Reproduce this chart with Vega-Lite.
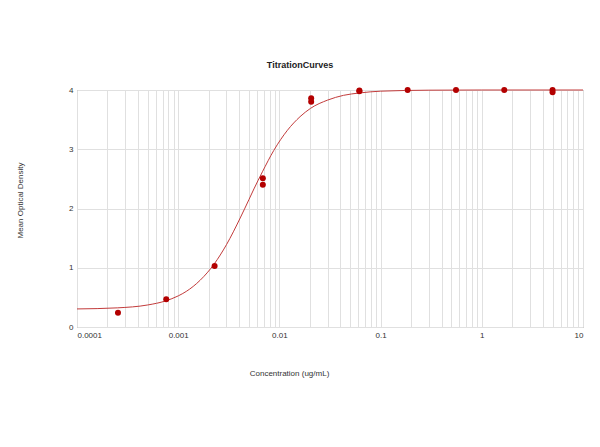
{
  "$schema": "https://vega.github.io/schema/vega-lite/v6.json",
  "autosize": {"type": "none"},
  "padding": {"left": 77, "top": 90, "right": 17, "bottom": 120},
  "width": 506,
  "height": 237,
  "config": {
    "font": "Liberation Sans",
    "view": {"stroke": "#8a8a8a", "strokeWidth": 1},
    "axis": {"labelFontSize": 8, "labelColor": "#333", "titleFontSize": 8, "titleFontWeight": "normal", "titleColor": "#333", "gridColor": "#e0e0e0", "domain": false, "ticks": false}
  },
  "title": {"text": "TitrationCurves", "fontSize": 9, "fontWeight": "bold", "color": "#222", "dx": -30, "offset": 16},
  "layer": [
    {
      "data": {
        "values": [
          {"conc": 0.0001, "od": 0.305},
          {"conc": 0.00025, "od": 0.323},
          {"conc": 0.0005, "od": 0.372},
          {"conc": 0.00075, "od": 0.44},
          {"conc": 0.001, "od": 0.525},
          {"conc": 0.0012, "od": 0.6},
          {"conc": 0.00165, "od": 0.79},
          {"conc": 0.00226, "od": 1.06},
          {"conc": 0.003, "od": 1.39},
          {"conc": 0.0041, "od": 1.84},
          {"conc": 0.005, "od": 2.15},
          {"conc": 0.0056, "od": 2.33},
          {"conc": 0.0068, "od": 2.62},
          {"conc": 0.0088, "od": 2.98},
          {"conc": 0.012, "od": 3.32},
          {"conc": 0.016, "od": 3.55},
          {"conc": 0.0203, "od": 3.69},
          {"conc": 0.03, "od": 3.83},
          {"conc": 0.043, "od": 3.91},
          {"conc": 0.062, "od": 3.95},
          {"conc": 0.1, "od": 3.98},
          {"conc": 0.3, "od": 3.997},
          {"conc": 1, "od": 4.0},
          {"conc": 10, "od": 4.0}
        ]
      },
      "mark": {"type": "line", "color": "#c23b3b", "strokeWidth": 1, "interpolate": "monotone"},
      "encoding": {
        "x": {
          "field": "conc", "type": "quantitative",
          "scale": {"type": "log", "domain": [0.0001, 10], "nice": false},
          "axis": {
            "title": "Concentration (ug/mL)", "titleX": 212, "titlePadding": 30,
            "values": [0.0001, 0.0002, 0.0003, 0.0004, 0.0005, 0.0006, 0.0007, 0.0008, 0.0009, 0.001, 0.002, 0.003, 0.004, 0.005, 0.006, 0.007, 0.008, 0.009, 0.01, 0.02, 0.03, 0.04, 0.05, 0.06, 0.07, 0.08, 0.09, 0.1, 0.2, 0.3, 0.4, 0.5, 0.6, 0.7, 0.8, 0.9, 1, 2, 3, 4, 5, 6, 7, 8, 9, 10],
            "format": "~g",
            "labelExpr": "indexof(['0.0001','0.001','0.01','0.1','1','10'], datum.label) >= 0 ? datum.label : ''",
            "labelPadding": 4, "labelOverlap": false
          }
        },
        "y": {
          "field": "od", "type": "quantitative",
          "scale": {"domain": [0, 4], "nice": false},
          "axis": {"title": "Mean Optical Density", "values": [0, 1, 2, 3, 4], "format": "d", "titlePadding": 44, "titleY": 110, "labelPadding": 4}
        }
      }
    },
    {
      "data": {
        "values": [
          {"conc": 0.000254, "od": 0.24},
          {"conc": 0.000762, "od": 0.47},
          {"conc": 0.00229, "od": 1.03},
          {"conc": 0.00686, "od": 2.51},
          {"conc": 0.00686, "od": 2.4},
          {"conc": 0.0206, "od": 3.86},
          {"conc": 0.0206, "od": 3.8},
          {"conc": 0.0617, "od": 3.98},
          {"conc": 0.0617, "od": 3.99},
          {"conc": 0.185, "od": 4.0},
          {"conc": 0.556, "od": 4.0},
          {"conc": 1.667, "od": 4.0},
          {"conc": 5.0, "od": 4.0},
          {"conc": 5.0, "od": 3.96}
        ]
      },
      "mark": {"type": "circle", "color": "#b30000", "opacity": 1, "size": 36},
      "encoding": {
        "x": {"field": "conc", "type": "quantitative"},
        "y": {"field": "od", "type": "quantitative"}
      }
    }
  ]
}
